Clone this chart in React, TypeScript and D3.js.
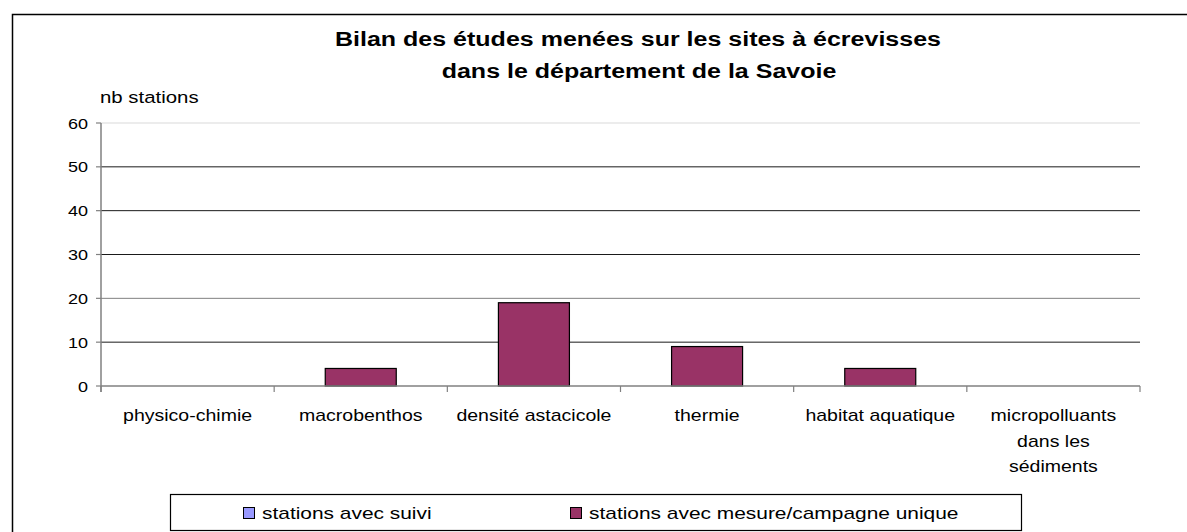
import { useEffect } from "react";
import * as d3 from "d3";

const categories = [
  "physico-chimie",
  "macrobenthos",
  "densité astacicole",
  "thermie",
  "habitat aquatique",
  "micropolluants\ndans les\nsédiments",
];
const suivi = [0, 0, 0, 0, 0, 0];
const unique = [0, 4, 19, 9, 4, 0];
const yTicks = [0, 10, 20, 30, 40, 50, 60];
const seriesNames = ["stations avec suivi", "stations avec mesure/campagne unique"];
const seriesColors = ["#9999FF", "#993366"];

const W = 1187;
const H = 532;
const font = "Arial, 'Liberation Sans', sans-serif";

// the source picture is stretched sideways, so text gets a horizontal scale
function SText({ x, y, size, sx = 1.22, anchor = "start", weight = "normal", children }: any) {
  return (
    <text
      transform={`translate(${x},${y}) scale(${sx},1)`}
      textAnchor={anchor}
      fontSize={size}
      fontWeight={weight}
      fontFamily={font}
      fill="#000"
    >
      {children}
    </text>
  );
}

export default function App() {
  useEffect(() => {
    document.body.style.margin = "0";
    document.body.style.overflow = "hidden";
  }, []);

  const left = 101, right = 1140, top = 123, bottom = 386;

  const y = d3.scaleLinear().domain([0, 60]).range([bottom, top]);
  const xBar = d3.scaleBand().domain(categories).range([left, right]).paddingInner(0.59).paddingOuter(0.295);
  const xCat = d3.scaleBand().domain(categories).range([left, right]);

  const gridColor = (t: number) => (t === 60 ? "#d9d9d9" : t === 20 ? "#808080" : "#1a1a1a");

  return (
    <svg width={W} height={H} style={{ display: "block", background: "#fff" }}>
      <rect x={12.5} y={14.5} width={1300} height={600} fill="#fff" stroke="#000" strokeWidth={1.5} />

      {/* title */}
      <SText x={638} y={46} size={20.5} anchor="middle" weight="bold">Bilan des études menées sur les sites à écrevisses</SText>
      <SText x={639} y={78} size={20.5} anchor="middle" weight="bold">dans le département de la Savoie</SText>
      <SText x={100} y={103} size={17} sx={1.2}>nb stations</SText>

      {/* gridlines */}
      {yTicks.filter((t) => t > 0).map((t) => (
        <line key={t} x1={left} x2={right} y1={y(t)} y2={y(t)} stroke={gridColor(t)} strokeWidth={1} />
      ))}

      {/* bars */}
      {[suivi, unique].map((vals, s) =>
        categories.map((c, i) =>
          vals[i] > 0 ? (
            <rect
              key={`${s}-${i}`}
              x={xBar(c)}
              y={y(vals[i])}
              width={xBar.bandwidth()}
              height={y(0) - y(vals[i])}
              fill={seriesColors[s]}
              stroke="#000"
              strokeWidth={1.2}
            />
          ) : null
        )
      )}

      {/* y axis */}
      <line x1={left} x2={left} y1={top} y2={bottom + 6} stroke="#808080" strokeWidth={1.5} />
      {yTicks.map((t) => (
        <g key={t}>
          <line x1={left - 5} x2={left} y1={y(t)} y2={y(t)} stroke="#808080" strokeWidth={1.2} />
          <SText x={88} y={y(t) + 5.5} size={15} sx={1.2} anchor="end">{t}</SText>
        </g>
      ))}

      {/* x axis */}
      <line x1={left} x2={right} y1={bottom} y2={bottom} stroke="#808080" strokeWidth={1.5} />
      {[...categories.map((c) => xCat(c) as number), right].map((xv, i) => (
        <line key={i} x1={xv} x2={xv} y1={bottom} y2={bottom + 6} stroke="#808080" strokeWidth={1.2} />
      ))}
      {categories.map((c) => {
        const cx = (xCat(c) as number) + xCat.bandwidth() / 2;
        return c.split("\n").map((ln, k) => (
          <SText key={c + k} x={cx} y={421 + k * 25.7} size={16} anchor="middle">{ln}</SText>
        ));
      })}

      {/* legend */}
      <rect x={170.5} y={494.5} width={851} height={36} fill="#fff" stroke="#000" strokeWidth={1.2} />
      {seriesNames.map((n, i) => {
        const lx = [243, 570][i];
        return (
          <g key={n}>
            <rect x={lx + 0.5} y={507.5} width={11} height={11} fill={seriesColors[i]} stroke="#000" strokeWidth={1} />
            <SText x={lx + 19} y={518.5} size={17} sx={1.23}>{n}</SText>
          </g>
        );
      })}
    </svg>
  );
}
